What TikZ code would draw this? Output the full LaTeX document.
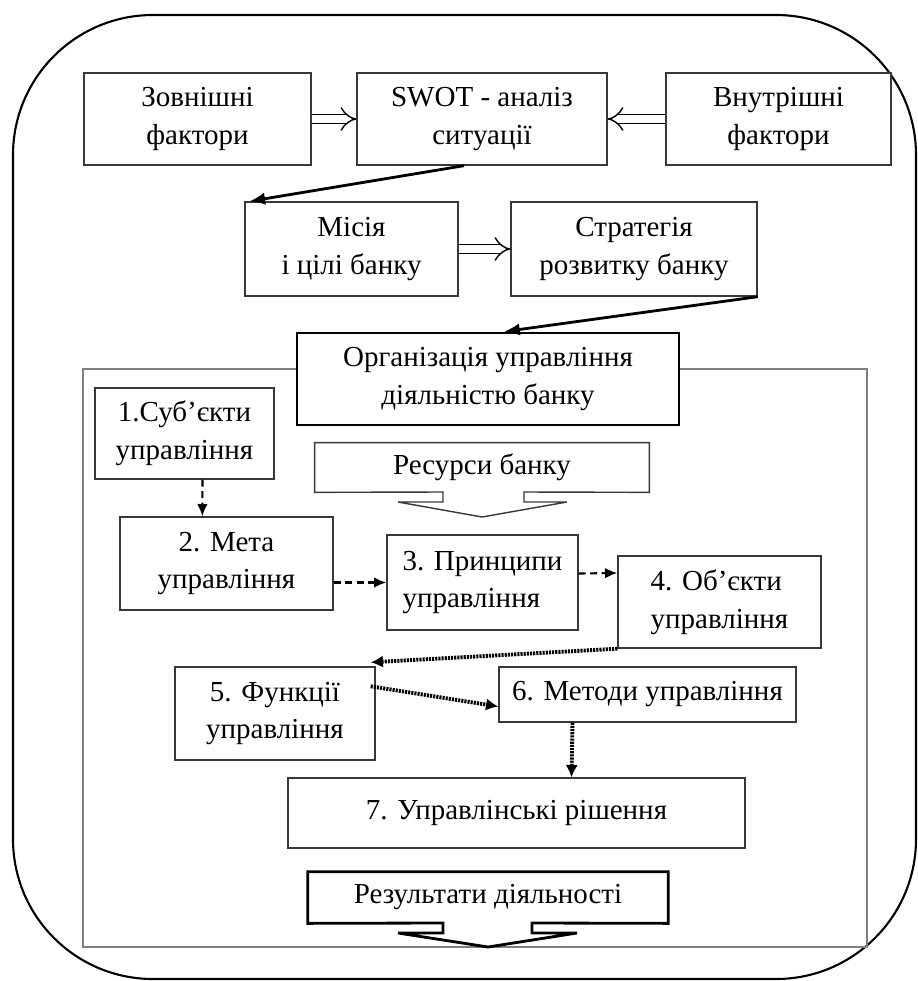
\documentclass[tikz,border=0pt]{standalone}
\usepackage{fontspec}
\setmainfont{Liberation Serif}
\usepackage{tikz}
\usetikzlibrary{arrows.meta, positioning, calc}
\definecolor{boxgray}{rgb}{0.22,0.22,0.22}
\definecolor{framegray}{rgb}{0.5,0.5,0.5}

\begin{document}
\begin{tikzpicture}[x=0.02cm, y=-0.02cm,
    txt/.style={align=center, inner sep=0pt, font=\fontsize{16.5}{21.5}\selectfont},
    box/.style={txt, draw=boxgray, line width=0.8pt, fill=white},
    thickbox/.style={box, draw=black, line width=1.6pt},
    dbl/.style={double=white, double distance=4pt, line width=0.8pt, -{Implies[scale=1.4]}},
    bold/.style={line width=1.6pt, -{Latex[length=9pt, width=7pt]}},
    dasharrow/.style={line width=1.2pt, dash pattern=on 4pt off 2.5pt, -{Latex[length=7pt, width=6pt]}},
    dotarrow/.style={line width=2.2pt, dash pattern=on 1.2pt off 0.6pt, -{Latex[length=7pt, width=7pt]}}]
      \useasboundingbox (0,0) rectangle (918,981);
      % outer frame
      \draw [line width=1.2pt, rounded corners=2.8cm] (13,15) rectangle (916,979);
      % inner frame
      \draw [framegray, line width=0.8pt] (83,369) rectangle (867,947);

      \node[box, minimum width=4.54cm, minimum height=1.84cm] (zov) at (197.5,119) {Зовнішні\\фактори};
      \node[box, minimum width=5.0cm, minimum height=1.84cm] (swot) at (482,119) {SWOT - аналіз\\ситуації};
      \node[box, minimum width=4.5cm, minimum height=1.84cm] (vnut) at (778.5,119) {Внутрішні\\фактори};

      \node[box, minimum width=4.26cm, minimum height=1.88cm] (misia) at (351.5,249) {Місія\\і цілі банку};
      \node[box, minimum width=4.92cm, minimum height=1.88cm] (strat) at (634,249) {Стратегія\\розвитку банку};

      \node[thickbox, minimum width=7.64cm, minimum height=1.84cm] (org) at (488,379) {Організація управління\\діяльністю банку};

      \node[box, minimum width=3.58cm, minimum height=1.82cm] (subj) at (184.5,433.5) {1.Суб’єкти\\управління};
      \node[txt, minimum width=6.68cm, minimum height=0.98cm] (res) at (482,467.5) {Ресурси банку};
      \node[box, minimum width=4.26cm, minimum height=1.86cm] (meta) at (226.5,563.5) {2. Мета\\управління};
      \node[box, align=left, minimum width=3.82cm, minimum height=1.9cm] (princ) at (482.5,582.5) {3. Принципи\\управління};
      \node[box, align=left, minimum width=4.06cm, minimum height=1.84cm] (obj) at (719.5,602) {4. Об’єкти\\управління};
      \node[box, minimum width=4.0cm, minimum height=1.86cm] (func) at (275,713.5) {5. Функції\\управління};
      \node[box, minimum width=5.94cm, minimum height=1.1cm] (meth) at (647.5,694.5) {6. Методи управління};
      \node[box, minimum width=9.14cm, minimum height=1.4cm] (rish) at (516.5,813) {7. Управлінські рішення};
      \node[txt, minimum width=7.2cm, minimum height=1.02cm] (rez) at (488,897.5) {Результати діяльності};

      % block arrows
      \draw [boxgray, line width=0.8pt] (res.north west) -- (res.north east) -- (res.south east) -- (524,492) -- (524,502) -- (567,502) -- (482,517) -- (398,502) -- (443,502) -- (443,492) -- (res.south west) -- cycle;
      \draw [line width=1.6pt] (rez.north west) -- (rez.north east) -- (rez.south east) -- (532,923) -- (532,933) -- (577,933) -- (488,947) -- (398,933) -- (443,933) -- (443,923) -- (rez.south west) -- cycle;

      % connectors
      \draw [dbl] (zov) -- (swot);
      \draw [dbl] (vnut) -- (swot);
      \draw [dbl] (misia) -- (strat);
      \draw [bold] ($(swot.south)+(-18,0)$) -- ($(misia.north west)+(5,0)$);
      \draw [bold] (strat.south east) -- ($(org.north)+(16,0)$);

      \draw [dasharrow] ($(subj.south)+(18,0)$) -- ($(meta.north west)+(83,0)$);
      \draw [dasharrow] (meta.east |- princ.west) -- (princ.west);
      \draw [dasharrow] ($(princ.east)+(0,-9)$) -- ($(obj.west)+(0,-29)$);
      \draw [dotarrow] (obj.south west) -- ($(func.north east)+(-5,-4)$);
      \draw [dotarrow] ($(func.north east)+(-5,20)$) -- ($(meth.west)+(0,12)$);
      \draw [dotarrow] ($(meth.south)+(-75,0)$) -- ($(rish.north)+(55,0)$);
\end{tikzpicture}
\end{document}
